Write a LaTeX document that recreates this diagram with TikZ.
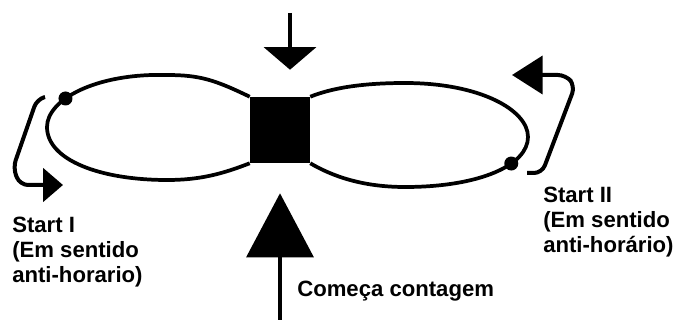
\documentclass[tikz,border=0pt]{standalone}
\usepackage{fontspec}
\setmainfont{Liberation Sans}
\usepackage{tikz}
\usetikzlibrary{positioning,arrows.meta}
\tikzset{
  loopline/.style={draw=black,line width=2.8pt},
  startdot/.style={circle,fill=black,inner sep=0pt,minimum size=10.5pt},
  countbox/.style={fill=black,inner sep=0pt,minimum width=45pt,minimum height=49.5pt},
  lbl/.style={anchor=north west,inner sep=0pt,align=left,font=\bfseries\fontsize{16.6}{18.75}\selectfont},
  turnflow/.style={line width=3pt,rounded corners=6pt},
  pushflow/.style={line width=3.3pt}
}

\begin{document}
\begin{tikzpicture}[x=0.75pt,y=-0.75pt]
  \useasboundingbox (0,0) rectangle (678,320);
  \node[countbox] (counter) at (280,130) {};
  % left loop
  \draw[loopline] (counter.north west) .. controls (215,80) and (200,75) .. (167,75)
    .. controls (95,73) and (47,100) .. (47,127) node[startdot,pos=0.63] (dotI) {}
    .. controls (47,160) and (100,180) .. (167,180)
    .. controls (200,180) and (222,174) .. (counter.south west);
  % right loop
  \draw[loopline] (counter.north east) .. controls (332,88) and (362,83) .. (405,83)
    .. controls (480,83) and (528,110) .. (528,137)
    .. controls (528,165) and (480,187) .. (405,187) node[startdot,pos=0.35] (dotII) {}
    .. controls (362,187) and (332,176) .. (counter.south east);
  \coordinate (tailI) at (45,97);
  \coordinate (headI) at (63,185);
  \coordinate (tailII) at (527,173);
  \coordinate (headII) at (512,75);
  \coordinate (dropTop) at (290,13);
  \coordinate (pushBot) at (280,320);
  \draw[turnflow,-{Triangle[length=15pt,width=25pt]}] (tailI) -- (37,99) -- (13,168) -- (20,185) -- (headI);
  \draw[turnflow,-{Triangle[length=23pt,width=28.5pt]}] (tailII) -- (542,173) -- (575,86) -- (566,75) -- (headII);
  \draw[pushflow,-{Triangle[length=17pt,width=39pt]},shorten >=20.25pt] (dropTop) -- (dropTop |- counter.north);
  \draw[pushflow,-{Triangle[length=48pt,width=50pt]},shorten >=22.5pt] (pushBot) -- (counter.south);
  \node[lbl] (startI) at (12,217) {Start I\\(Em sentido\\anti-horario)};
  \node[lbl] (startII) at (543,187) {Start II\\(Em sentido\\anti-horário)};
  \node[lbl] (comeca) at (297,281) {Começa contagem};
\end{tikzpicture}
\end{document}
